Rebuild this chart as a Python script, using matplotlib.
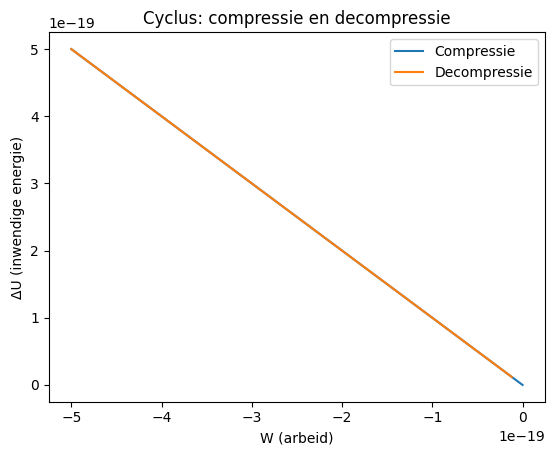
import matplotlib.pyplot as plt

w_compressie = [0.0, -5e-19]
u_compressie = [0.0, 5e-19]
w_decompressie = [-5e-19, -0.12e-19]
u_decompressie = [5e-19, 0.12e-19]

fig = plt.figure(figsize=(5.54, 4.55), dpi=100)
ax = fig.add_subplot(111)
fig.subplots_adjust(left=0.088, right=0.984, top=0.929, bottom=0.117)
ax.plot(w_compressie, u_compressie, label='Compressie')
ax.plot(w_decompressie, u_decompressie, label='Decompressie')
ax.set_xlabel('W (arbeid)')
ax.set_ylabel('ΔU (inwendige energie)')
ax.set_title('Cyclus: compressie en decompressie')
ax.legend()
fig.savefig('out.png')
